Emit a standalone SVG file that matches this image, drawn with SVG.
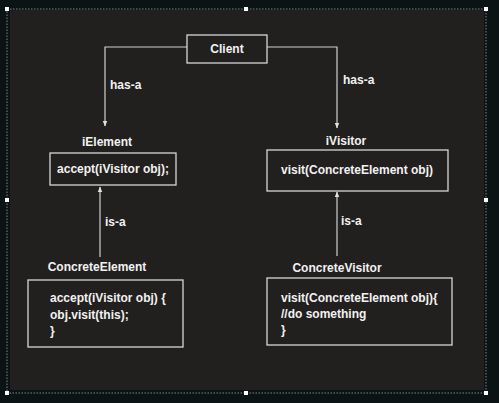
<svg xmlns="http://www.w3.org/2000/svg" width="499" height="403" viewBox="0 0 499 403">
<defs>
<style>
.box{fill:none;stroke:#d8d8d8;stroke-width:1.3}
.ln{fill:none;stroke:#d0d0d0;stroke-width:1.2}
text{font-family:"Liberation Sans",Arial,sans-serif;font-weight:bold;font-size:12px;fill:#f2f2f2}
.sel{fill:none;stroke:#9aa6a8;stroke-width:0.8;stroke-dasharray:1.5 1.5}
.h{fill:#ffffff}
</style>
<marker id="arr" viewBox="0 0 10 10" refX="9" refY="5" markerWidth="5" markerHeight="5" orient="auto">
<path d="M0,1 L10,5 L0,9 z" fill="#e0e0e0"/>
</marker>
</defs>
<rect x="0" y="0" width="499" height="403" fill="#0b1315"/>
<rect x="10" y="10" width="474" height="380" fill="#221f1f"/>
<rect class="sel" x="7" y="9" width="479" height="384"/>
<g id="handles">
<rect class="h" x="5" y="7" width="4" height="4"/>
<rect class="h" x="244" y="7" width="4" height="4"/>
<rect class="h" x="484" y="7" width="4" height="4"/>
<rect class="h" x="5" y="198" width="4" height="4"/>
<rect class="h" x="484" y="198" width="4" height="4"/>
<rect class="h" x="5" y="391" width="4" height="4"/>
<rect class="h" x="244" y="391" width="4" height="4"/>
<rect class="h" x="484" y="391" width="4" height="4"/>
</g>
<g id="connectors">
<polyline class="ln" points="187,47 105,47 105,126" marker-end="url(#arr)"/>
<polyline class="ln" points="267,47 337,47 337,128" marker-end="url(#arr)"/>
<line class="ln" x1="100" y1="257" x2="100" y2="187" marker-end="url(#arr)"/>
<line class="ln" x1="337" y1="256" x2="337" y2="192" marker-end="url(#arr)"/>
<text x="110" y="89">has-a</text>
<text x="343" y="84">has-a</text>
<text x="105" y="226">is-a</text>
<text x="341" y="225">is-a</text>
</g>
<g id="client">
<rect class="box" x="187" y="35" width="80" height="28"/>
<text x="227" y="53" text-anchor="middle">Client</text>
</g>
<g id="iElement">
<text x="107" y="146" text-anchor="middle">iElement</text>
<rect class="box" x="50" y="153" width="126" height="32"/>
<text x="113" y="173" text-anchor="middle">accept(iVisitor obj);</text>
</g>
<g id="iVisitor">
<text x="346" y="145" text-anchor="middle">iVisitor</text>
<rect class="box" x="267" y="150" width="181" height="41"/>
<text x="357" y="174" text-anchor="middle">visit(ConcreteElement obj)</text>
</g>
<g id="concreteElement">
<text x="97" y="271" text-anchor="middle">ConcreteElement</text>
<rect class="box" x="28" y="280" width="155" height="67"/>
<text x="50" y="302">accept(iVisitor obj) {</text>
<text x="50" y="319">obj.visit(this);</text>
<text x="50" y="335">}</text>
</g>
<g id="concreteVisitor">
<text x="337" y="272" text-anchor="middle">ConcreteVisitor</text>
<rect class="box" x="267" y="278" width="185" height="67"/>
<text x="281" y="302">visit(ConcreteElement obj){</text>
<text x="281" y="318">//do something</text>
<text x="281" y="334">}</text>
</g>
</svg>
